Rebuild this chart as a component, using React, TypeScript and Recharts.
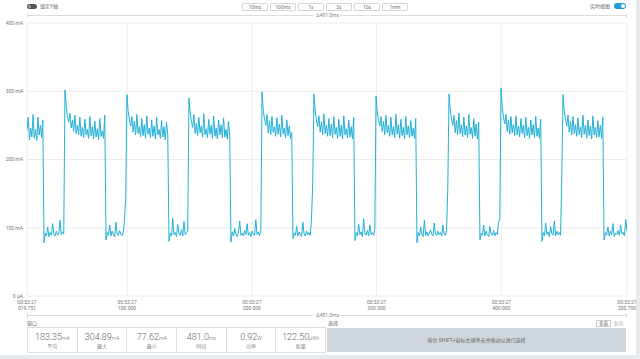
import React from 'react';
import { LineChart, Line, XAxis, YAxis, CartesianGrid } from 'recharts';

// ---- axis ticks ----
const clockLabel = '00:53:27';
const xTickValues = [19.751, 100, 200, 300, 400, 500.79];
const xTickLabels = ['019.751', '100.000', '200.000', '300.000', '400.000', '500.790'];
const yTickValues = [0, 100, 200, 300, 400];
const yTickLabels = ['0 µA', '100 mA', '200 mA', '300 mA', '400 mA'];

// ---- segment boundaries (ms) ----
const segmentBounds = [
  19.751, 33.4, 50.2, 83.1, 99.9, 133.6, 149.6, 183.3, 208.2, 233.0, 249.8,
  282.7, 299.6, 332.4, 358.1, 382.9, 399.8, 432.6, 449.5, 482.4, 500.79,
];

// ---- current samples (mA) ----
const high1 = [243, 262, 229, 246, 233, 266, 231, 244, 228, 262, 236, 250, 232, 258];
const low1 = [78, 92, 88, 101, 87, 93, 89, 106, 90, 88, 95, 89, 92, 111, 90, 94, 91];
const high2 = [302, 278, 262, 255, 268, 246, 258, 241, 265, 238, 250, 236, 262, 234, 247, 232, 259, 236, 244, 231, 263, 235, 248, 230, 256, 233, 245, 229, 260, 234, 242, 231, 265];
const low2 = [82, 93, 89, 104, 88, 95, 90, 87, 108, 91, 89, 96, 90, 88, 94, 112, 145];
const high3 = [295, 270, 258, 249, 263, 240, 256, 236, 266, 238, 248, 233, 260, 235, 251, 231, 264, 237, 246, 232, 258, 234, 249, 230, 262, 236, 244, 231, 257, 233, 248, 229, 255, 236];
const low3 = [80, 92, 88, 114, 90, 93, 87, 105, 91, 89, 97, 88, 109, 90, 93, 95];
const high4 = [290, 268, 256, 247, 266, 238, 253, 235, 262, 239, 249, 233, 267, 236, 245, 232, 259, 237, 250, 231, 264, 234, 246, 230, 258, 236, 251, 232, 261, 233, 244, 230, 256, 235];
const low4 = [79, 94, 88, 99, 90, 87, 93, 110, 89, 92, 88, 96, 90, 106, 89, 93, 87, 95, 91, 89, 112, 90, 94, 88, 96];
const high5 = [299, 272, 259, 250, 266, 239, 257, 236, 263, 240, 248, 234, 261, 237, 252, 233, 265, 238, 246, 232, 258, 235, 249, 231, 240];
const low5 = [84, 92, 89, 102, 88, 94, 90, 87, 108, 91, 88, 95, 90, 93, 89, 112, 164];
const high6 = [296, 271, 258, 248, 264, 240, 255, 236, 267, 238, 250, 234, 260, 235, 252, 232, 263, 237, 247, 231, 259, 234, 250, 230, 264, 236, 245, 232, 258, 233, 248, 230, 262];
const low6 = [81, 93, 88, 105, 90, 94, 87, 113, 91, 89, 96, 88, 104, 90, 93, 89, 98];
const high7 = [293, 270, 257, 249, 263, 241, 256, 236, 265, 239, 250, 234, 262, 236, 248, 232, 266, 237, 251, 231, 259, 235, 247, 230, 263, 236, 249, 232, 257, 234, 246, 231, 260];
const low7 = [78, 93, 88, 101, 90, 87, 111, 89, 94, 88, 92, 97, 90, 88, 107, 91, 89, 95, 90, 93, 88, 104, 91, 89, 96, 158];
const high8 = [296, 272, 260, 250, 265, 239, 257, 236, 268, 238, 251, 233, 262, 236, 249, 232, 266, 237, 247, 231, 260, 234, 252, 230, 255];
const low8 = [82, 92, 89, 104, 88, 95, 90, 87, 102, 91, 89, 96, 88, 93, 90, 108, 113];
const high9 = [305, 276, 262, 252, 266, 241, 258, 237, 263, 239, 251, 235, 264, 236, 249, 233, 260, 238, 250, 232, 262, 235, 247, 231, 258, 236, 251, 232, 263, 234, 246, 231, 259];
const low9 = [80, 93, 88, 107, 90, 94, 87, 102, 91, 89, 110, 88, 95, 90, 93, 89, 173];
const high10 = [295, 271, 259, 249, 265, 240, 256, 236, 263, 238, 251, 234, 261, 236, 248, 232, 265, 237, 250, 231, 258, 235, 249, 230, 264, 236, 247, 232, 257, 233, 250, 231, 262];
const low10 = [82, 93, 89, 101, 88, 95, 90, 106, 87, 92, 90, 96, 89, 104, 91, 93, 88, 112, 95];

const segments = [high1, low1, high2, low2, high3, low3, high4, low4, high5, low5, high6, low6, high7, low7, high8, low8, high9, low9, high10, low10];

// ---- window stats ----
const statValues = ['183.35', '304.89', '77.62', '481.0', '0.92', '122.50'];
const statUnits = ['mA', 'mA', 'mA', 'ms', 'W', 'µWh'];
const statLabels = ['平均', '最大', '最小', '时间', '功率', '能量'];
const rangeButtons = ['10ms', '100ms', '1s', '3s', '10s', '1min'];
const deltaLabel = 'Δ481.0ms';

const data: { t: number; v: number }[] = [];
segments.forEach((vals, i) => {
  const start = segmentBounds[i];
  const end = segmentBounds[i + 1];
  const last = i === segments.length - 1;
  const step = (end - start) / (last ? vals.length - 1 : vals.length);
  vals.forEach((v, k) => data.push({ t: start + k * step, v }));
});

const FONT = "Roboto, 'Noto Sans CJK SC', sans-serif";
const PLOT_LEFT = 27;
const PLOT_RIGHT = 627;

const XTick = (props: any) => {
  const { x, y, payload } = props;
  const idx = xTickValues.indexOf(payload.value);
  return (
    <text x={x} y={y} textAnchor="middle" fontSize={5} fill="#777" fontFamily={FONT}>
      <tspan x={x} dy={8}>{clockLabel}</tspan>
      <tspan x={x} dy={6.3}>{xTickLabels[idx]}</tspan>
    </text>
  );
};

const YTick = (props: any) => {
  const { x, y, payload } = props;
  const idx = yTickValues.indexOf(payload.value);
  return (
    <text x={x} y={y} dy="0.35em" textAnchor="end" fontSize={5} fill="#777" fontFamily={FONT}>
      {yTickLabels[idx]}
    </text>
  );
};

const DeltaLine = ({ top }: { top: number }) => (
  <div style={{ position: 'absolute', left: PLOT_LEFT, top: top, width: PLOT_RIGHT - PLOT_LEFT, height: 8 }}>
    <div style={{ position: 'absolute', left: 0, top: 3, width: 286, height: 1, background: '#dcdcdc' }} />
    <div style={{ position: 'absolute', left: 0, top: 1, width: 1, height: 5, background: '#dcdcdc' }} />
    <div style={{ position: 'absolute', left: 289, top: 0, fontSize: 5, lineHeight: '7px', color: '#888', whiteSpace: 'nowrap' }}>{deltaLabel}</div>
    <div style={{ position: 'absolute', left: 313, top: 3, width: 287, height: 1, background: '#dcdcdc' }} />
    <div style={{ position: 'absolute', left: 599, top: 1, width: 1, height: 5, background: '#dcdcdc' }} />
  </div>
);

export default function App() {
  return (
    <div style={{ position: 'absolute', left: 0, top: 0, width: 640, height: 359, background: '#fff', fontFamily: FONT, overflow: 'hidden' }}>
      {/* top bar */}
      <div style={{ position: 'absolute', left: 27, top: 4, width: 10, height: 5, borderRadius: 3, background: '#50565c' }}>
        <div style={{ position: 'absolute', left: 1, top: 1, width: 3, height: 3, borderRadius: 2, background: '#9aa0a6' }} />
      </div>
      <div style={{ position: 'absolute', left: 40, top: 3, fontSize: 5, lineHeight: '7px', color: '#666' }}>锁定Y轴</div>
      {rangeButtons.map((b, i) => (
        <div key={b} style={{ position: 'absolute', left: 242 + i * 28, top: 3, width: 24, height: 6, border: '1px solid #d6d6d6', borderRadius: 1, fontSize: 5, lineHeight: '6px', color: '#777', textAlign: 'center' }}>{b}</div>
      ))}
      <div style={{ position: 'absolute', left: 590, top: 3, fontSize: 5, lineHeight: '7px', color: '#666' }}>实时视图</div>
      <div style={{ position: 'absolute', left: 614, top: 3, width: 12, height: 6, borderRadius: 3, background: '#1d9ed6' }}>
        <div style={{ position: 'absolute', left: 7, top: 1, width: 4, height: 4, borderRadius: 2, background: '#fff' }} />
      </div>

      <DeltaLine top={12} />

      <div style={{ position: 'absolute', left: 0, top: 0 }}>
        <LineChart width={640} height={359} data={data} margin={{ top: 23, right: 13, left: 0, bottom: 0 }}>
          <CartesianGrid stroke="#ececec" strokeWidth={1} verticalValues={xTickValues} horizontalValues={yTickValues} />
          <XAxis
            dataKey="t"
            type="number"
            domain={[19.751, 500.79]}
            ticks={xTickValues}
            interval={0}
            height={63}
            axisLine={false}
            tickLine={false}
            tickSize={0}
            tickMargin={0}
            tick={<XTick />}
            allowDataOverflow
          />
          <YAxis
            type="number"
            domain={[0, 400]}
            ticks={yTickValues}
            width={27}
            axisLine={false}
            tickLine={false}
            tickSize={0}
            tickMargin={4}
            tick={<YTick />}
            allowDataOverflow
          />
          <Line dataKey="v" type="linear" stroke="#22b0d6" strokeWidth={1} dot={false} isAnimationActive={false} />
        </LineChart>
      </div>

      <DeltaLine top={312} />

      {/* window stats */}
      <div style={{ position: 'absolute', left: 27, top: 320, fontSize: 5, lineHeight: '7px', color: '#666' }}>窗口</div>
      <div style={{ position: 'absolute', left: 27, top: 327, width: 297, height: 24, border: '1px solid #dedede', display: 'flex' }}>
        {statValues.map((v, i) => (
          <div key={i} style={{ flex: 1, borderLeft: i === 0 ? 'none' : '1px solid #dedede', textAlign: 'center', position: 'relative' }}>
            <div style={{ position: 'absolute', left: 0, right: 0, top: 4, fontSize: 9, lineHeight: '11px', color: '#666', fontWeight: 300, whiteSpace: 'nowrap' }}>
              {v}<span style={{ fontSize: 5 }}>{statUnits[i]}</span>
            </div>
            <div style={{ position: 'absolute', left: 0, right: 0, top: 15, fontSize: 5, lineHeight: '6px', color: '#888' }}>{statLabels[i]}</div>
          </div>
        ))}
      </div>

      {/* selection */}
      <div style={{ position: 'absolute', left: 328, top: 320, fontSize: 5, lineHeight: '7px', color: '#666' }}>选择</div>
      <div style={{ position: 'absolute', left: 596, top: 320, width: 13, height: 5, border: '1px solid #ccc', fontSize: 4.5, lineHeight: '5px', color: '#555', textAlign: 'center' }}>全选</div>
      <div style={{ position: 'absolute', left: 612, top: 320, width: 13, height: 5, fontSize: 4.5, lineHeight: '7px', color: '#aaa', textAlign: 'center' }}>取消</div>
      <div style={{ position: 'absolute', left: 327, top: 328, width: 299, height: 24, background: '#cfd6dc', fontSize: 5, lineHeight: '24px', color: '#666', textAlign: 'center' }}>
        按住 SHIFT+鼠标左键单击并拖动以进行选择
      </div>

      {/* frame edges */}
      <div style={{ position: 'absolute', left: 0, top: 355, width: 640, height: 4, background: '#e6eaed' }} />
      <div style={{ position: 'absolute', left: 636, top: 0, width: 4, height: 359, background: '#e6eaed' }} />
    </div>
  );
}
